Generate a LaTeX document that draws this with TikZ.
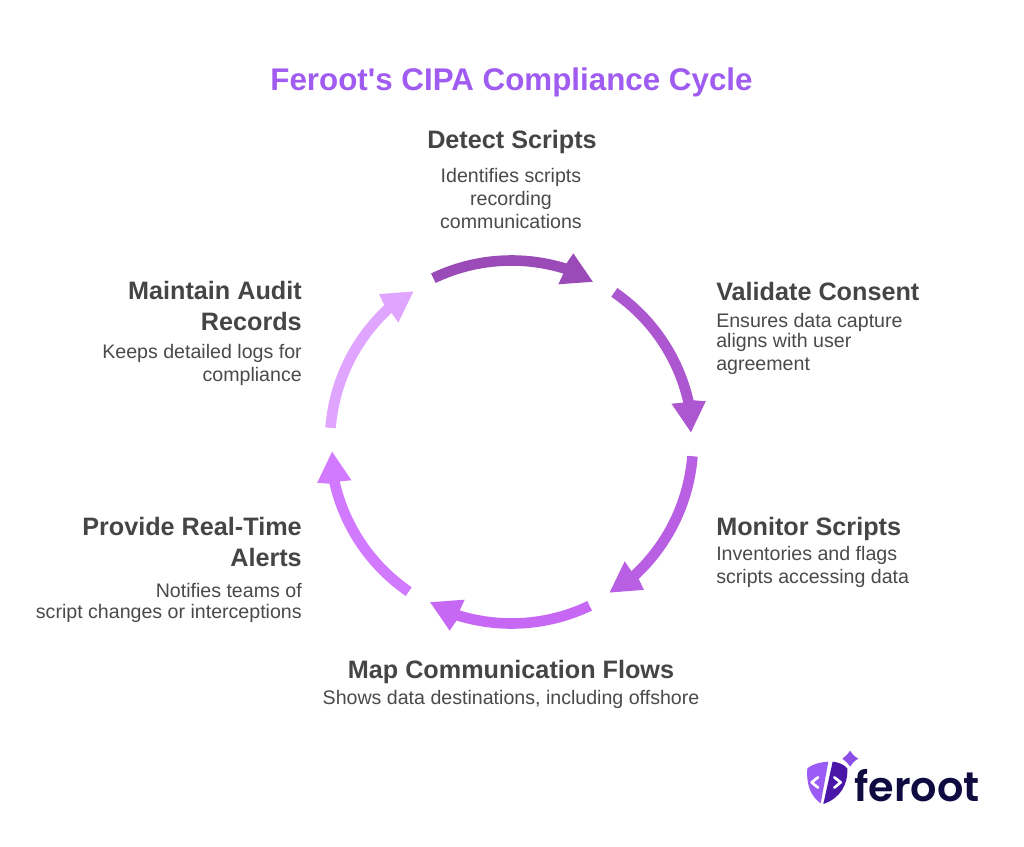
\documentclass[tikz,border=0pt]{standalone}
\usepackage{fontspec}
\setmainfont{Liberation Sans}
\newfontfamily\plainfont{Liberation Sans}
\newfontfamily\logofont{Poppins}[UprightFont={* SemiBold}]
\definecolor{titlec}{HTML}{A05CF0}
\definecolor{headc}{HTML}{454545}
\definecolor{bodyc}{HTML}{4A4A4A}
\definecolor{navy}{HTML}{0F0B40}
\definecolor{shieldl}{HTML}{9B5CF6}
\definecolor{shieldr}{HTML}{4A16A8}
\definecolor{spark}{HTML}{8B4FE8}
\usetikzlibrary{calc}
\tikzset{
  x=0.75pt,y=-0.75pt,
  titletext/.style={font=\plainfont\fontsize{23.5}{26}\selectfont\bfseries,text=titlec,anchor=base,inner sep=0},
  headtext/.style={font=\fontsize{18.9}{22}\selectfont\bfseries,text=headc,anchor=base,inner sep=0},
  bodytext/.style={font=\fontsize{14.7}{16}\selectfont,text=bodyc,anchor=base,inner sep=0},
  lefttext/.style={anchor=base west},
  righttext/.style={anchor=base east},
}
\begin{document}
\begin{tikzpicture}
\useasboundingbox (0,0) rectangle (1024,846);
\fill[white] (0,0) rectangle (1024,846);
\coordinate (hub) at (511.5,442);
% cycle arrows
\foreach \k/\col/\nm in {0/9A4BB8/a,1/AC57D0/b,2/B85FE3/c,3/C768F5/d,4/D27AFF/e,5/E0A5FF/f}{
  \definecolor{arrowc}{HTML}{\col}
  \pgfmathsetmacro{\rt}{-60*\k}
  \begin{scope}[shift={(hub)},x=1pt,y=1pt,scale=0.75,rotate=\rt]
    \fill[arrowc] (115.5:186.8) arc[start angle=115.5,end angle=72.9,radius=186.8]
      -- (71.85:198.5) -- (63.1:179.7) -- (73.46:164.5) -- (72.9:176.2)
      arc[start angle=72.9,end angle=115.5,radius=176.2] -- cycle;
  \end{scope}
}
\node[titletext] (title) at (511.5,90) {Feroot's CIPA Compliance Cycle};
\node[headtext] (h1) at (512,148) {Detect Scripts};
\node[bodytext] (b1a) at (511,182) {Identifies scripts};
\node[bodytext] (b1b) at (511,205) {recording};
\node[bodytext] (b1c) at (511,228) {communications};
\node[headtext,lefttext] (h2) at (716,300) {Validate Consent};
\node[bodytext,lefttext] (b2a) at (716,327) {Ensures data capture};
\node[bodytext,lefttext] (b2b) at (716,347) {aligns with user};
\node[bodytext,lefttext] (b2c) at (716,370) {agreement};
\node[headtext,lefttext] (h3) at (716,535) {Monitor Scripts};
\node[bodytext,lefttext] (b3a) at (716,560) {Inventories and flags};
\node[bodytext,lefttext] (b3b) at (716,583) {scripts accessing data};
\node[headtext] (h4) at (511,678) {Map Communication Flows};
\node[bodytext] (b4) at (511,704) {Shows data destinations, including offshore};
\node[headtext,righttext] (h5a) at (302,535) {Provide Real-Time};
\node[headtext,righttext] (h5b) at (302,566) {Alerts};
\node[bodytext,righttext] (b5a) at (302,597) {Notifies teams of};
\node[bodytext,righttext] (b5b) at (302,618) {script changes or interceptions};
\node[headtext,righttext] (h6a) at (302,299) {Maintain Audit};
\node[headtext,righttext] (h6b) at (302,330) {Records};
\node[bodytext,righttext] (b6a) at (302,358) {Keeps detailed logs for};
\node[bodytext,righttext] (b6b) at (302,381) {compliance};
% logo
\begin{scope}[shift={(790,740)},x=0.25pt,y=-0.25pt]
  \fill[shieldl] (52,85) .. controls (72,70) and (95,66) .. (115,65) -- (92,190) .. controls (65,170) and (48,140) .. (52,85) -- cycle;
  \fill[shieldr] (128,65) .. controls (145,67) and (160,72) .. (172,85) .. controls (174,135) and (150,175) .. (100,192) -- cycle;
  \fill[spark] (180,32) .. controls (186,42) and (194,50) .. (205,56) .. controls (194,62) and (186,70) .. (180,80) .. controls (174,70) and (166,62) .. (157,56) .. controls (166,50) and (174,42) .. (180,32) -- cycle;
  \draw[white,line width=2pt,line cap=round,line join=round] (84,112) -- (65,127) -- (84,143);
  \draw[white,line width=2pt,line cap=round,line join=round] (133,112) -- (152,127) -- (133,143);
\end{scope}
\node[font=\logofont\fontsize{31}{36}\selectfont,text=navy,anchor=base west,inner sep=0] (logo) at (854,801) {feroot};
\end{tikzpicture}
\end{document}
